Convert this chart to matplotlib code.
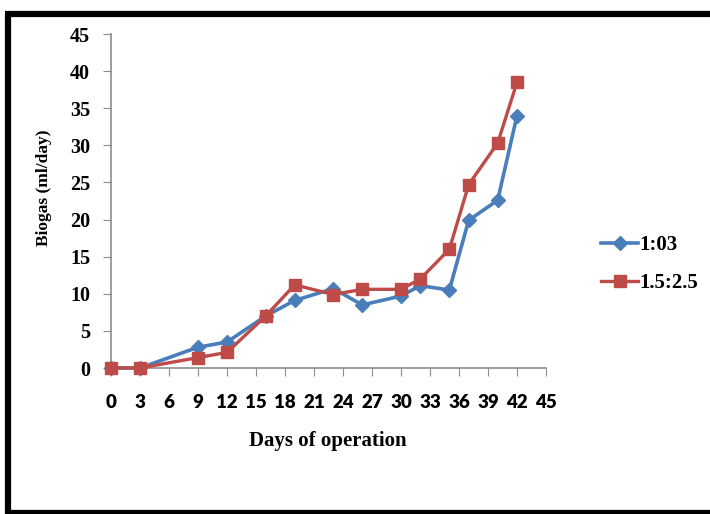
import matplotlib.pyplot as plt
from matplotlib.lines import Line2D

# values
days = [0, 3, 9, 12, 16, 19, 23, 26, 30, 32, 35, 37, 40, 42]
ratio_1_03 = [0, 0, 2.8, 3.5, 7.0, 9.1, 10.7, 8.5, 9.7, 11.1, 10.5, 19.9, 22.6, 34.0]
ratio_15_25 = [0, 0, 1.4, 2.1, 7.0, 11.2, 9.9, 10.6, 10.6, 12.0, 16.0, 24.7, 30.3, 38.5]
x_ticks = list(range(0, 46, 3))
y_ticks = list(range(0, 46, 5))

W, H = 710, 514
fig = plt.figure(figsize=(W / 100, H / 100), dpi=100)
ax = fig.add_axes([111 / W, 1 - 368 / H, (546 - 111) / W, (368 - 34) / H])

blue = "#4A7EBB"
red = "#BE4B48"
ax.plot(days, ratio_1_03, color=blue, lw=2.6, marker="D", ms=7,
        label="1:03", zorder=3)
ax.plot(days, ratio_15_25, color=red, lw=2.4, marker="s", ms=9,
        label="1.5:2.5", zorder=4)

ax.set_xlim(0, 45)
ax.set_ylim(0, 45)
ax.set_xticks(x_ticks)
ax.set_yticks(y_ticks)
ax.set_xticklabels([str(t) for t in x_ticks], family="Lato",
                   fontweight="heavy", fontsize=13.5)
ax.set_yticklabels([str(t) for t in y_ticks], family="Liberation Serif",
                   fontweight="bold", fontsize=14.5)
ax.tick_params(axis="x", direction="out", length=6, color="#8c8c8c",
               pad=13)
ax.tick_params(axis="y", direction="out", length=6, color="#8c8c8c",
               pad=9)
for s in ["top", "right"]:
    ax.spines[s].set_visible(False)
for s in ["left", "bottom"]:
    ax.spines[s].set_color("#8c8c8c")
    ax.spines[s].set_linewidth(1.2)
ax.margins(0)
for ln in ax.get_lines():
    ln.set_clip_on(False)

fig.text(44 / W, 1 - 188 / H, "Biogas (ml/day)", rotation=90,
         ha="center", va="center", family="Liberation Serif",
         fontweight="bold", fontsize=12.5)
fig.text(328 / W, 1 - 441 / H, "Days of operation", ha="center",
         va="center", family="Liberation Serif", fontweight="bold",
         fontsize=15)

leg = ax.legend(loc="center left", bbox_to_anchor=(591 / W, 1 - 264 / H),
                bbox_transform=fig.transFigure, frameon=False,
                prop={"family": "Liberation Serif", "weight": "bold",
                      "size": 15},
                handlelength=1.75, handletextpad=0.05, labelspacing=0.85,
                borderpad=0)

# black frame around the picture
frame_kw = dict(color="black", lw=4.5, transform=fig.transFigure,
                solid_capstyle="butt")
fig.add_artist(Line2D([8 / W, 8 / W], [1 - 13.5 / H, 0], **frame_kw))
fig.add_artist(Line2D([5 / W, 1], [1 - 13.5 / H, 1 - 13.5 / H], **frame_kw))
fig.add_artist(Line2D([5 / W, 1], [1 - 513 / H, 1 - 513 / H], **frame_kw))

fig.savefig("out.png", dpi=100)
